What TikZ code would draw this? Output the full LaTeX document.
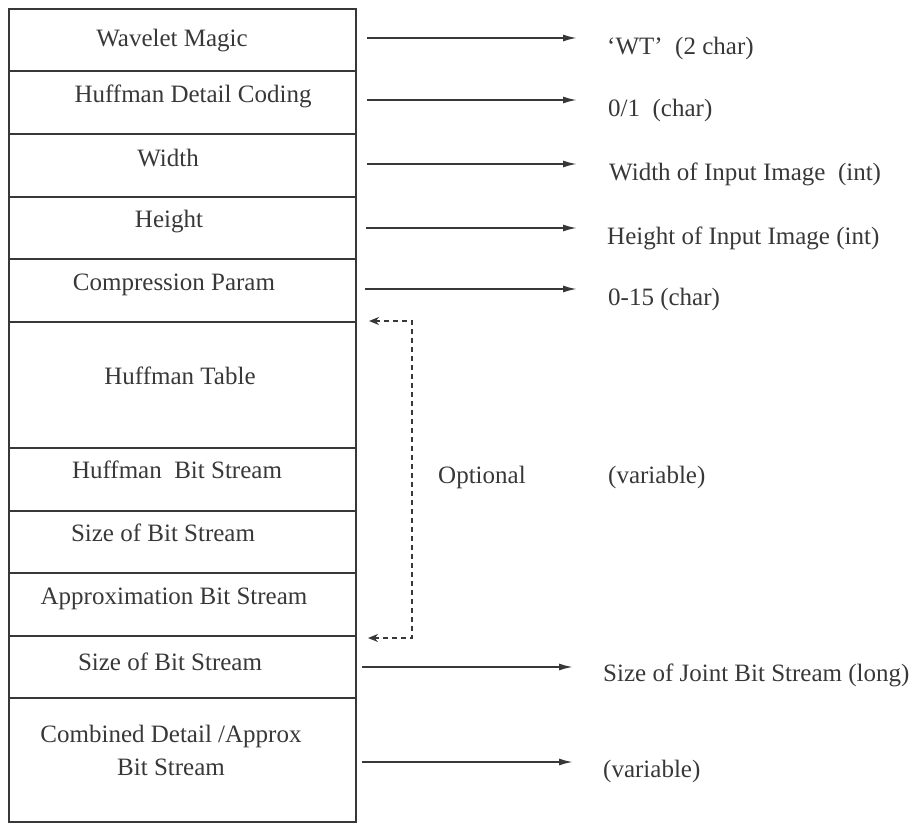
\documentclass[tikz,border=0pt]{standalone}
\usepackage{fontspec}
\setmainfont{Liberation Serif}
\usetikzlibrary{arrows.meta}
\definecolor{ink}{gray}{0.22}
\begin{document}
\begin{tikzpicture}[x=1pt,y=-1pt,
  every node/.style={text=ink},
  rowbox/.style={draw=ink,line width=1.8pt,rectangle,minimum width=347pt,anchor=north west,inner sep=0pt,outer sep=0pt},
  rowtext/.style={font=\fontsize{25pt}{30pt}\selectfont,anchor=base,inner sep=0pt},
  lbl/.style={font=\fontsize{25pt}{30pt}\selectfont,anchor=base west,inner sep=0pt},
  arr/.style={draw=ink,line width=1.8pt,-{Latex[length=14pt,width=7pt]},shorten >=30pt},
  dashline/.style={draw=ink,line width=1.6pt,dash pattern=on 5pt off 4pt,{Stealth[length=10pt,width=8pt,open]}-{Stealth[length=10pt,width=8pt,open]}}
]
\useasboundingbox (0,0) rectangle (918,824);
% rows
\node[rowbox,minimum height=62pt] (r1) at (9,9) {};
\node[rowbox,minimum height=63pt] (r2) at (r1.south west) {};
\node[rowbox,minimum height=63pt] (r3) at (r2.south west) {};
\node[rowbox,minimum height=62pt] (r4) at (r3.south west) {};
\node[rowbox,minimum height=63pt] (r5) at (r4.south west) {};
\node[rowbox,minimum height=126pt] (r6) at (r5.south west) {};
\node[rowbox,minimum height=63pt] (r7) at (r6.south west) {};
\node[rowbox,minimum height=62pt] (r8) at (r7.south west) {};
\node[rowbox,minimum height=63pt] (r9) at (r8.south west) {};
\node[rowbox,minimum height=62pt] (r10) at (r9.south west) {};
\node[rowbox,minimum height=124pt] (r11) at (r10.south west) {};
% row texts
\node[rowtext] (t1) at (172,47) {Wavelet Magic};
\node[rowtext] (t2) at (193,103) {Huffman Detail Coding};
\node[rowtext] (t3) at (168,167) {Width};
\node[rowtext] (t4) at (169,227) {Height};
\node[rowtext] (t5) at (174,290) {Compression Param};
\node[rowtext] (t6) at (180,384) {Huffman Table};
\node[rowtext] (t7) at (177,478) {Huffman\ \ Bit Stream};
\node[rowtext] (t8) at (163,541) {Size of Bit Stream};
\node[rowtext] (t9) at (174,604) {Approximation Bit Stream};
\node[rowtext] (t10) at (170,670) {Size of Bit Stream};
\node[rowtext] (t11a) at (171,742) {Combined Detail /Approx};
\node[rowtext] (t11b) at (171,775) {Bit Stream};
% right labels
\node[lbl] (l1) at (607,55) {`WT'\ \ (2 char)};
\node[lbl] (l2) at (608,117) {0/1\ \ (char)};
\node[lbl] (l3) at (609,180) {Width of Input Image\ \ (int)};
\node[lbl] (l4) at (607,244) {Height of Input Image (int)};
\node[lbl] (l5) at (608,305) {0-15 (char)};
\node[lbl] (lopt) at (438,483) {Optional};
\node[lbl] (lvar) at (608,483) {(variable)};
\node[lbl] (l10) at (603,681) {Size of Joint Bit Stream (long)};
\node[lbl] (l11) at (603,777) {(variable)};
% arrow starts
\coordinate (s1) at (367,38);
\coordinate (s2) at (367,100);
\coordinate (s3) at (367,164);
\coordinate (s4) at (366,228);
\coordinate (s5) at (365,289);
\coordinate (s10) at (362,667);
\coordinate (s11) at (362,762);
\draw[arr] (s1) -- (s1 -| l1.west);
\draw[arr] (s2) -- (s2 -| l1.west);
\draw[arr] (s3) -- (s3 -| l1.west);
\draw[arr] (s4) -- (s4 -| l1.west);
\draw[arr] (s5) -- (s5 -| l1.west);
\draw[arr] (s10) -- (s10 -| l10.west);
\draw[arr] (s11) -- (s11 -| l11.west);
% optional bracket
\coordinate (dtop) at (369,321);
\coordinate (dbot) at (368,638);
\draw[dashline] (dtop) -- ++(43,0) |- (dbot);
\end{tikzpicture}
\end{document}
